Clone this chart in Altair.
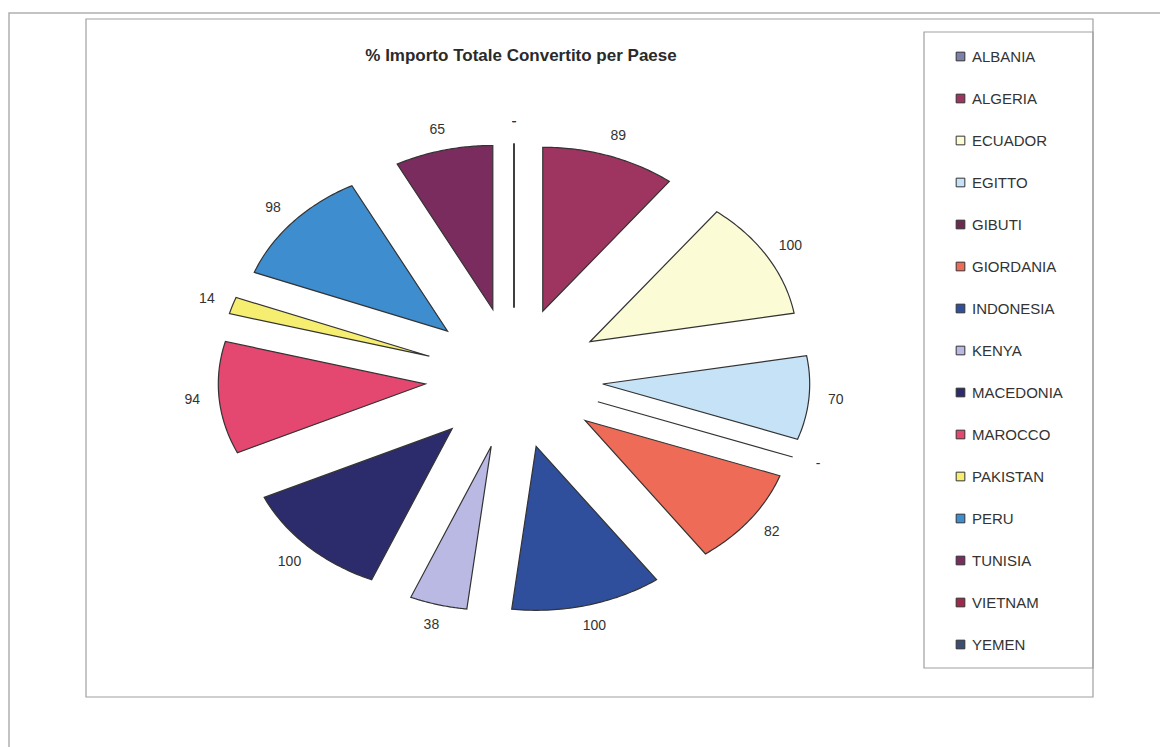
import altair as alt
import pandas as pd

# ---- data ----
countries = ["ALBANIA", "ALGERIA", "ECUADOR", "EGITTO", "GIBUTI", "GIORDANIA",
             "INDONESIA", "KENYA", "MACEDONIA", "MAROCCO", "PAKISTAN", "PERU",
             "TUNISIA", "VIETNAM", "YEMEN"]
values = [0, 89, 100, 70, 0, 82, 100, 38, 100, 94, 14, 98, 65, 0, 0]
colors = ["#7c80aa", "#9e3560", "#fbfbd6", "#c6e2f7", "#6e2a4c", "#ee6b58",
          "#2f4f9d", "#b9b9e4", "#2c2b6c", "#e4476f", "#f6ee70", "#3e8dce",
          "#7a2c5e", "#a0284a", "#3c4d74"]
title_text = "% Importo Totale Convertito per Paese"

# ---- layout parameters ----
W, H = 1160, 747
CX, CY = 514, 378          # pie centre in pixels
RX, RY = 207, 164          # radius in pixels (horizontal / vertical)
EXPLODE = 0.43             # explosion distance, in radius units
LABEL_R = 1.13             # label distance beyond the slice apex, in radius units
NPTS = 48                  # points along each arc
FONT = "Liberation Sans"

xscale = alt.Scale(domain=[-CX / RX, (W - CX) / RX], range=[0, W], nice=False, zero=False)
yscale = alt.Scale(domain=[CY / RY - H / RY, CY / RY], range=[H, 0], nice=False, zero=False)

df = pd.DataFrame({"paese": countries, "valore": values, "ordine": list(range(len(countries)))})

base = (
    alt.Chart(df)
    .transform_joinaggregate(totale="sum(valore)")
    .transform_window(fine="sum(valore)", sort=[alt.SortField("ordine")], frame=[None, 0])
    .transform_calculate(
        a0="2*PI*(datum.fine - datum.valore)/datum.totale",
        a1="2*PI*datum.fine/datum.totale",
    )
    .transform_calculate(mid="(datum.a0 + datum.a1)/2")
)

slices = (
    base.transform_calculate(k=f"sequence(0, {NPTS + 1})")
    .transform_flatten(["k"])
    .transform_calculate(
        ang=f"datum.a0 + (datum.a1 - datum.a0) * max(datum.k - 1, 0) / {NPTS - 1}",
        rr="datum.k == 0 ? 0 : 1",
    )
    .transform_calculate(
        px=f"{EXPLODE}*sin(datum.mid) + datum.rr*sin(datum.ang)",
        py=f"{EXPLODE}*cos(datum.mid) + datum.rr*cos(datum.ang)",
    )
    .mark_line(filled=True, interpolate="linear-closed", stroke="#333333", strokeWidth=1.2)
    .encode(
        x=alt.X("px:Q", scale=xscale, axis=None),
        y=alt.Y("py:Q", scale=yscale, axis=None),
        order=alt.Order("k:Q"),
        color=alt.Color(
            "paese:N",
            scale=alt.Scale(domain=countries, range=colors),
            legend=alt.Legend(
                title=None, orient="none", legendX=953, legendY=49, direction="vertical",
                symbolType="square", symbolSize=75, symbolStrokeColor="#333",
                symbolStrokeWidth=1, labelFont=FONT, labelFontSize=15, labelColor="#333",
                labelOffset=4, rowPadding=26, padding=0, labelLimit=200,
            ),
        ),
    )
)

labels = (
    base.transform_calculate(
        lx=f"({EXPLODE}+{LABEL_R})*sin(datum.mid)",
        ly=f"({EXPLODE}+{LABEL_R})*cos(datum.mid)",
        lab="datum.valore == 0 ? '-' : format(datum.valore, 'd')",
    )
    .mark_text(font=FONT, fontSize=14, color="#333")
    .encode(
        x=alt.X("lx:Q", scale=xscale, axis=None),
        y=alt.Y("ly:Q", scale=yscale, axis=None),
        text="lab:N",
    )
)

one = pd.DataFrame({"t": [title_text]})

outer = alt.Chart(one).mark_rect(fillOpacity=0, stroke="#b0b0b0", strokeWidth=1.5).encode(
    x=alt.value(9), x2=alt.value(1175), y=alt.value(13), y2=alt.value(762))
chartbox = alt.Chart(one).mark_rect(fillOpacity=0, stroke="#a0a0a0", strokeWidth=1.2).encode(
    x=alt.value(86), x2=alt.value(1093), y=alt.value(19), y2=alt.value(697))
legendbox = alt.Chart(one).mark_rect(fillOpacity=0, stroke="#a0a0a0", strokeWidth=1.2).encode(
    x=alt.value(924), x2=alt.value(1093), y=alt.value(32), y2=alt.value(668))
title = alt.Chart(one).mark_text(font=FONT, fontSize=17, fontWeight="bold", color="#2a2a2a").encode(
    x=alt.value(521), y=alt.value(56), text="t:N")

chart = (
    alt.layer(outer, chartbox, legendbox, slices, labels, title)
    .resolve_scale(x="shared", y="shared")
    .properties(width=W, height=H, autosize=alt.AutoSizeParams(type="none"), padding=0,
                background="white")
    .configure_view(stroke=None)
)

chart.save("out.html", embed_options={"renderer": "svg", "actions": False})
